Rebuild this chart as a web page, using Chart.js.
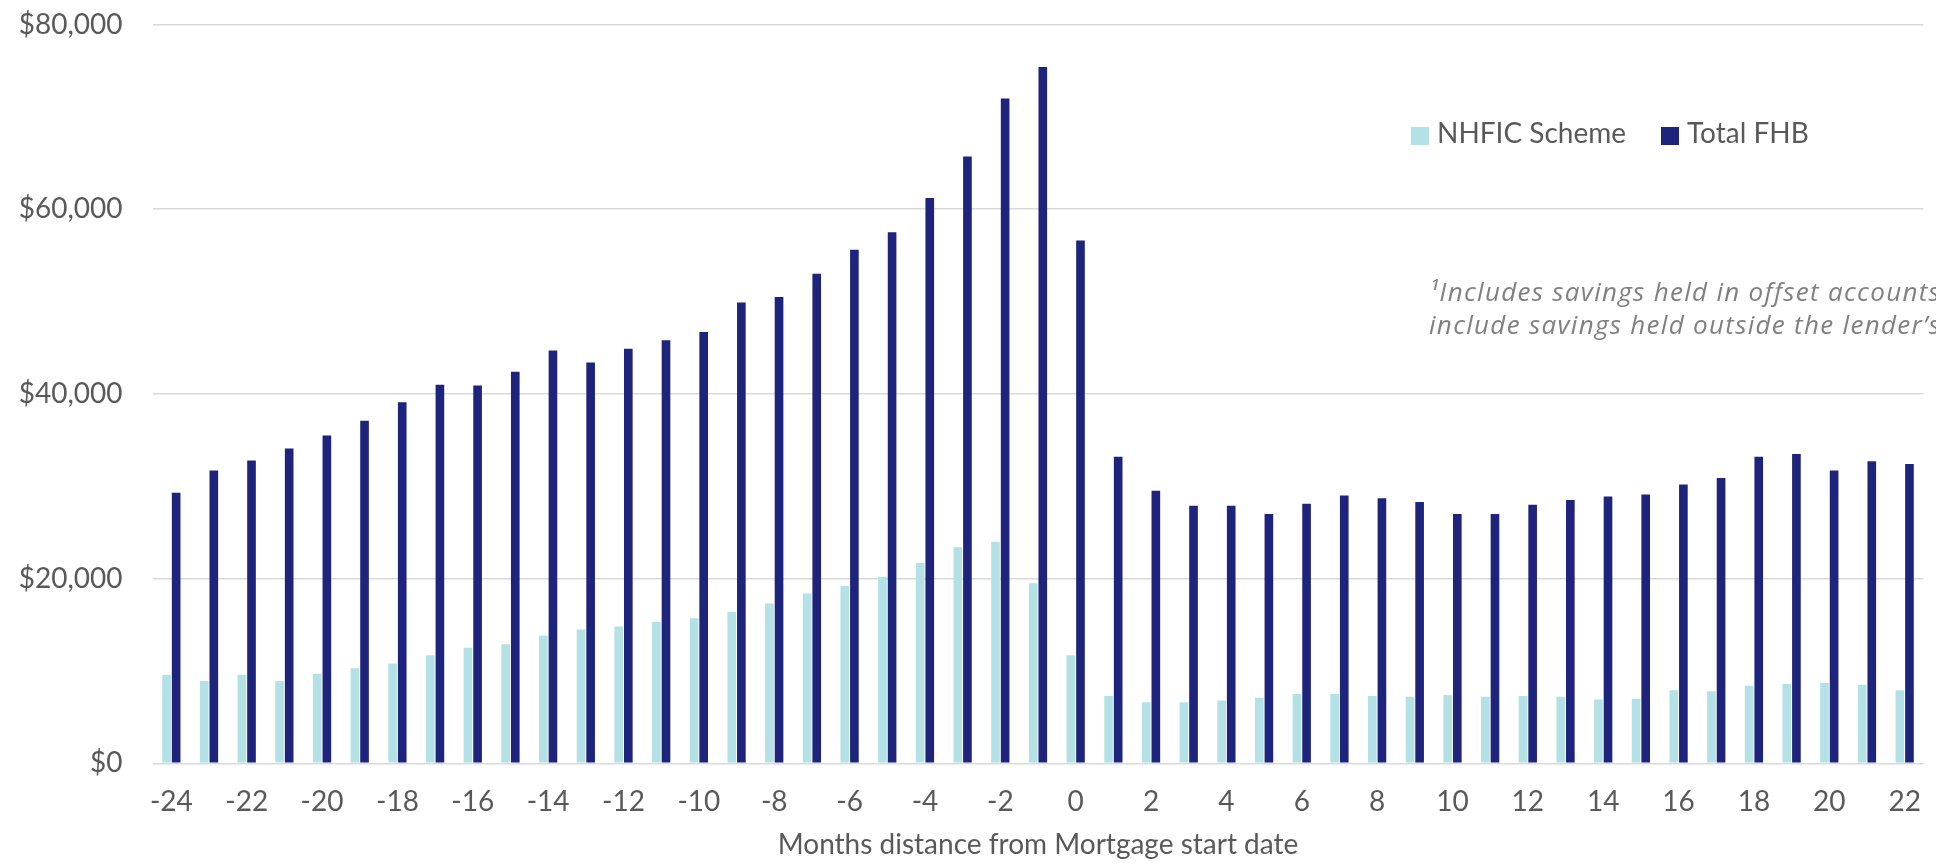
<!DOCTYPE html>
<html>
<head>
<meta charset="utf-8">
<script src="https://cdn.jsdelivr.net/npm/chart.js@4.4.1/dist/chart.umd.min.js"></script>
<style>
  html, body { margin: 0; padding: 0; background: #ffffff; }
  #wrap { width: 1936px; height: 864px; position: relative; }
  canvas { display: block; }
</style>
</head>
<body>
<div id="wrap"><canvas id="c" width="1936" height="864"></canvas></div>
<script>
// Months relative to mortgage start
const months = [-24, -23, -22, -21, -20, -19, -18, -17, -16, -15, -14, -13, -12, -11, -10,
  -9, -8, -7, -6, -5, -4, -3, -2, -1, 0,
  1, 2, 3, 4, 5, 6, 7, 8, 9, 10, 11, 12, 13, 14, 15, 16, 17, 18, 19, 20, 21, 22];

// Median savings ($) – NHFIC scheme participants
const nhficScheme = [9600, 8900, 9600, 8900, 9700, 10300, 10800, 11700, 12500, 12900, 13800, 14500, 14800, 15300, 15700,
  16400, 17300, 18400, 19200, 20200, 21700, 23400, 24000, 19500, 11700,
  7300, 6600, 6600, 6800, 7100, 7500, 7500, 7300, 7200, 7400, 7200, 7300, 7200, 6900, 7000, 7900, 7800, 8400, 8600, 8700, 8500, 7900];

// Median savings ($) – all first home buyers
const totalFHB = [29300, 31700, 32800, 34100, 35500, 37100, 39100, 41000, 40900, 42400, 44700, 43400, 44900, 45800, 46700,
  49900, 50500, 53000, 55600, 57500, 61200, 65700, 72000, 75400, 56600,
  33200, 29500, 27900, 27900, 27000, 28100, 29000, 28700, 28300, 27000, 27000, 28000, 28500, 28900, 29100, 30200, 30900, 33200, 33500, 31700, 32700, 32400];

// Axis tick values
const yTicks = [0, 20000, 40000, 60000, 80000];
const xTickLabels = [-24, -22, -20, -18, -16, -14, -12, -10, -8, -6, -4, -2, 0, 2, 4, 6, 8, 10, 12, 14, 16, 18, 20, 22];

const seriesNames = ['NHFIC Scheme', 'Total FHB'];
const seriesColors = ['#b3e1e6', '#1e247c'];

const axisTitle = 'Months distance from Mortgage start date';
const footnoteLines = ['\u00B9Includes savings held in offset accounts', 'include savings held outside the lender\u2019s'];

const FONT = 'Lato, "Open Sans", sans-serif';
const TEXT = '#595959';

const fmtDollar = v => '$' + Number(v).toLocaleString('en-US');

// Legend placed inside the plot, drawn from the dataset definitions
const insideLegend = {
  id: 'insideLegend',
  afterDraw(chart) {
    const ctx = chart.ctx;
    const xs = [1411, 1661];
    ctx.save();
    ctx.font = '28px ' + FONT;
    ctx.textBaseline = 'alphabetic';
    ctx.textAlign = 'left';
    chart.data.datasets.forEach((ds, i) => {
      ctx.fillStyle = ds.backgroundColor;
      ctx.fillRect(xs[i], 127, 18, 18);
      ctx.fillStyle = TEXT;
      ctx.fillText(ds.label, xs[i] + 26, 143);
    });
    ctx.restore();
  }
};

// Footnote in the upper right of the plot (runs off the right edge)
const footnote = {
  id: 'footnote',
  afterDraw(chart) {
    const ctx = chart.ctx;
    ctx.save();
    ctx.font = 'italic 26px "Open Sans", Lato, sans-serif';
    const w = ctx.measureText(footnoteLines[0]).width;
    const spacing = Math.max(0, (512 - w) / footnoteLines[0].length);
    ctx.letterSpacing = spacing.toFixed(2) + 'px';
    ctx.fillStyle = '#808080';
    ctx.textAlign = 'left';
    ctx.textBaseline = 'alphabetic';
    ctx.fillText(footnoteLines[0], 1429, 301);
    ctx.fillText(footnoteLines[1], 1429, 334);
    ctx.restore();
  }
};

new Chart(document.getElementById('c'), {
  type: 'bar',
  data: {
    labels: months,
    datasets: [
      { label: seriesNames[0], data: nhficScheme, backgroundColor: seriesColors[0], borderWidth: 0 },
      { label: seriesNames[1], data: totalFHB, backgroundColor: seriesColors[1], borderWidth: 0 }
    ]
  },
  options: {
    responsive: false,
    animation: false,
    devicePixelRatio: 1,
    layout: { padding: { top: 24.5, right: 12.5, left: 0, bottom: 0 } },
    datasets: { bar: { categoryPercentage: 0.51, barPercentage: 0.9 } },
    plugins: {
      legend: { display: false },
      tooltip: { enabled: false }
    },
    scales: {
      x: {
        grid: { display: false, drawTicks: false },
        border: { display: false },
        ticks: {
          autoSkip: false,
          maxRotation: 0,
          minRotation: 0,
          padding: 22,
          color: TEXT,
          font: { family: FONT, size: 28 },
          callback: function (value) {
            const m = this.getLabelForValue(value);
            return xTickLabels.includes(Number(m)) ? String(m) : '';
          }
        },
        title: {
          display: true,
          text: axisTitle,
          color: TEXT,
          font: { family: FONT, size: 28 },
          padding: { top: 0, bottom: 2 }
        },
        afterFit(s) { s.height = 100.7; s.paddingLeft = 0; s.paddingRight = 0; }
      },
      y: {
        min: yTicks[0],
        max: yTicks[yTicks.length - 1],
        grid: { color: '#d9d9d9', lineWidth: 1.5, drawTicks: false },
        border: { display: false },
        ticks: {
          stepSize: yTicks[1] - yTicks[0],
          padding: 30,
          color: TEXT,
          font: { family: FONT, size: 28 },
          callback: v => fmtDollar(v)
        },
        afterBuildTicks(s) { s.ticks = yTicks.map(v => ({ value: v })); },
        afterFit(s) { s.width = 152.5; s.paddingTop = 0; s.paddingBottom = 0; }
      }
    }
  },
  plugins: [insideLegend, footnote]
});
</script>
</body>
</html>
